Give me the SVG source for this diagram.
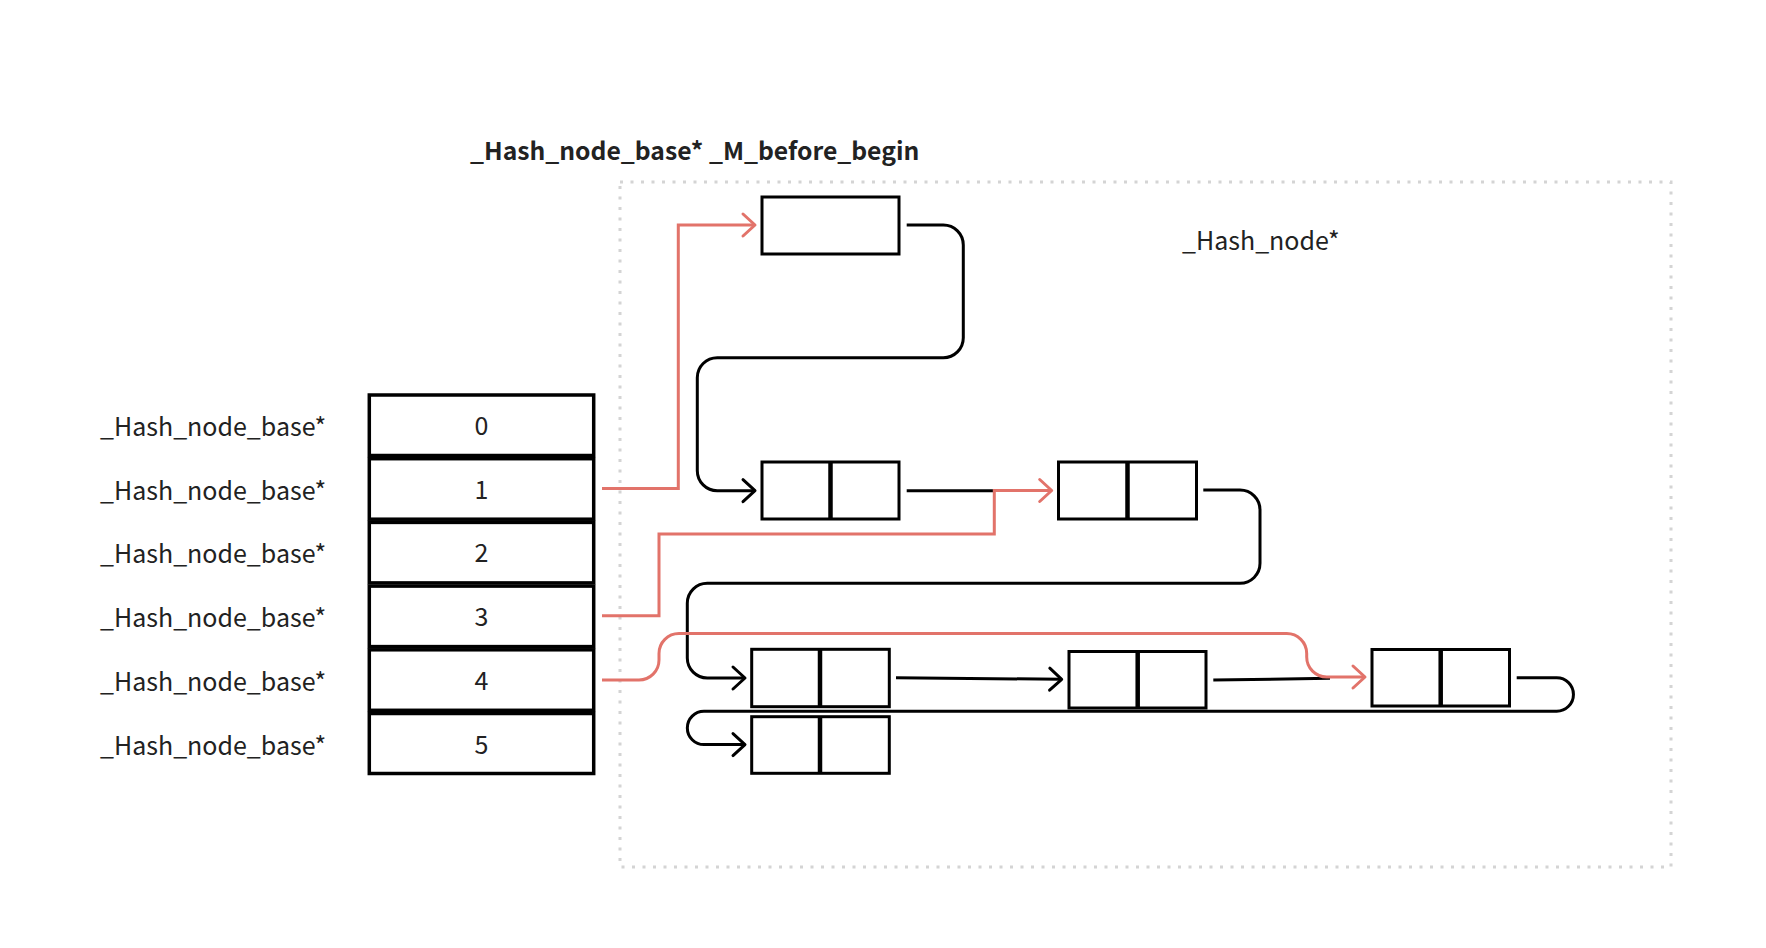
<svg xmlns="http://www.w3.org/2000/svg" width="1766" height="948" viewBox="0 0 1766 948">
<defs>
<style>
.lbl{font-family:"Noto Sans CJK SC","Noto Sans",sans-serif;font-size:25px;fill:#222}
.num{font-family:"Noto Sans CJK SC","Noto Sans",sans-serif;font-size:25px;fill:#222;text-anchor:middle}
.title{font-family:"Noto Sans CJK SC","Noto Sans",sans-serif;font-size:24.7px;font-weight:700;fill:#222}
.cell{fill:#fff;stroke:#000;stroke-width:3.5}
.box{fill:#fff;stroke:#000;stroke-width:3}
.div{stroke:#000;stroke-width:4.5}
.blk{fill:none;stroke:#000;stroke-width:3}
.red{fill:none;stroke:#e2736a;stroke-width:3}
</style>
<marker id="ab" viewBox="-16 -14 20 28" refX="0" refY="0" markerWidth="20" markerHeight="28" markerUnits="userSpaceOnUse" orient="auto" overflow="visible">
<path d="M-12,-11 L0,0 L-12,11" fill="none" stroke="#000" stroke-width="3" stroke-linecap="round" stroke-linejoin="round"/>
</marker>
<marker id="ar" viewBox="-16 -14 20 28" refX="0" refY="0" markerWidth="20" markerHeight="28" markerUnits="userSpaceOnUse" orient="auto" overflow="visible">
<path d="M-12,-11 L0,0 L-12,11" fill="none" stroke="#e2736a" stroke-width="3" stroke-linecap="round" stroke-linejoin="round"/>
</marker>
</defs>
<rect width="1766" height="948" fill="#fff"/>

<g id="region">
<rect x="620" y="182" width="1051" height="685" fill="none" stroke="#d4d4d4" stroke-width="3" stroke-dasharray="3 7.5"/>
</g>

<g id="title"><text class="title" x="470" y="160">_Hash_node_base* _M_before_begin</text></g>
<g id="hashnode-label"><text class="lbl" x="1182" y="250">_Hash_node*</text></g>

<g id="bucket-0"><text class="lbl" x="100" y="436">_Hash_node_base*</text><rect class="cell" x="369.3" y="395" width="224.4" height="60.5"/><text class="num" x="481.5" y="435">0</text></g>
<g id="bucket-1"><text class="lbl" x="100" y="499.7">_Hash_node_base*</text><rect class="cell" x="369.3" y="458.7" width="224.4" height="60.5"/><text class="num" x="481.5" y="498.7">1</text></g>
<g id="bucket-2"><text class="lbl" x="100" y="563.4">_Hash_node_base*</text><rect class="cell" x="369.3" y="522.4" width="224.4" height="60.5"/><text class="num" x="481.5" y="562.4">2</text></g>
<g id="bucket-3"><text class="lbl" x="100" y="627.1">_Hash_node_base*</text><rect class="cell" x="369.3" y="586.1" width="224.4" height="60.5"/><text class="num" x="481.5" y="626.1">3</text></g>
<g id="bucket-4"><text class="lbl" x="100" y="690.8">_Hash_node_base*</text><rect class="cell" x="369.3" y="649.8" width="224.4" height="60.5"/><text class="num" x="481.5" y="689.8">4</text></g>
<g id="bucket-5"><text class="lbl" x="100" y="754.5">_Hash_node_base*</text><rect class="cell" x="369.3" y="713.5" width="224.4" height="60"/><text class="num" x="481.5" y="753.5">5</text></g>

<g id="before-begin"><rect class="box" x="762" y="197" width="137" height="57"/></g>
<g id="node-a"><rect class="box" x="762" y="462" width="137" height="57"/><line class="div" x1="830.5" y1="462" x2="830.5" y2="519"/></g>
<g id="node-b"><rect class="box" x="1058.5" y="462" width="138" height="57"/><line class="div" x1="1127.5" y1="462" x2="1127.5" y2="519"/></g>
<g id="node-c"><rect class="box" x="751.7" y="649.3" width="137.6" height="57.4"/><line class="div" x1="820" y1="649.3" x2="820" y2="706.7"/></g>
<g id="node-d"><rect class="box" x="1069" y="651.5" width="137" height="56.5"/><line class="div" x1="1137.7" y1="651.5" x2="1137.7" y2="708"/></g>
<g id="node-e"><rect class="box" x="1372" y="649.5" width="137.5" height="56.5"/><line class="div" x1="1440.7" y1="649.5" x2="1440.7" y2="706"/></g>
<g id="node-f"><rect class="box" x="751.7" y="716.7" width="137.6" height="56.6"/><line class="div" x1="820" y1="716.7" x2="820" y2="773.3"/></g>

<g id="connectors">
<path class="blk" d="M906.7,225 H943.3 A20,20 0 0 1 963.3,245 V337.7 A20,20 0 0 1 943.3,357.7 H717.3 A20,20 0 0 0 697.3,377.7 V470.7 A20,20 0 0 0 717.3,490.7 H755" marker-end="url(#ab)"/>
<path class="blk" d="M906.7,490.7 H994.3"/>
<path class="blk" d="M1203.3,490 H1240 A20,20 0 0 1 1260,510 V563.3 A20,20 0 0 1 1240,583.3 H707.3 A20,20 0 0 0 687.3,603.3 V658 A20,20 0 0 0 707.3,678 H745" marker-end="url(#ab)"/>
<path class="blk" d="M896,677.7 L1061.7,679.3" marker-end="url(#ab)"/>
<path class="blk" d="M1213.3,680 L1330,678.3"/>
<path class="blk" d="M1516.7,677.7 H1556.7 A16.7,16.7 0 0 1 1556.7,711.2 H704 A16.7,16.7 0 0 0 704,744.6 H745" marker-end="url(#ab)"/>
<path class="red" d="M602,488.5 H678.3 V225 H755" marker-end="url(#ar)"/>
<path class="red" d="M602,615.7 H659 V534 H994.3 V490.5 H1051.7" marker-end="url(#ar)"/>
<path class="red" d="M602,680 H639 A20,20 0 0 0 659,660 V653.5 A20,20 0 0 1 679,633.5 H1286.7 A20,20 0 0 1 1306.7,653.5 V657 A20,20 0 0 0 1326.7,677 H1365" marker-end="url(#ar)"/>
</g>
</svg>
